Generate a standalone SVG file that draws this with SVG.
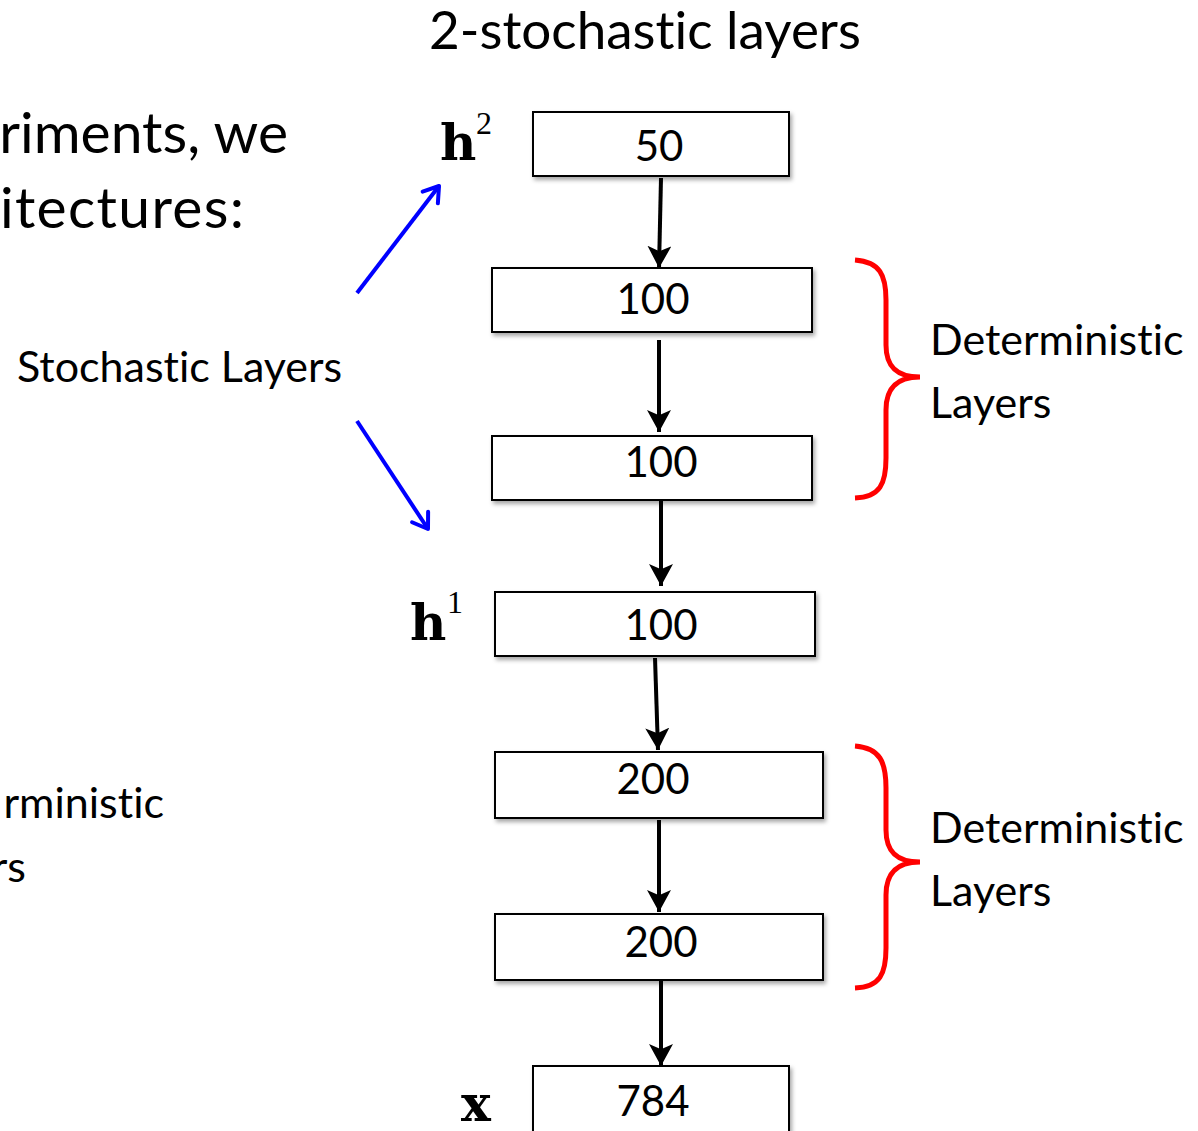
<svg xmlns="http://www.w3.org/2000/svg" width="1198" height="1131" viewBox="0 0 1198 1131">
<style>
text{font-variant-ligatures:none}
.box{fill:#fff;stroke:#000;stroke-width:2;filter:url(#sh)}
.num{font-family:Lato,"Liberation Sans",sans-serif;font-size:42px;fill:#000;text-anchor:middle}
.lbl{font-family:Lato,"Liberation Sans",sans-serif;font-size:43px;fill:#000}
.big{font-family:Lato,"Liberation Sans",sans-serif;font-size:57px;fill:#000}
.title{font-family:Lato,"Liberation Sans",sans-serif;font-size:53px;fill:#000;text-anchor:middle}
.math{font-family:"DejaVu Serif","Liberation Serif",serif;font-weight:bold;fill:#000}
.sup{font-family:"Liberation Serif",serif;fill:#000;font-size:32px}
.con{stroke:#000;stroke-width:4;fill:none;marker-end:url(#ah)}
.blue{stroke:#0000ff;stroke-width:4;fill:none;marker-end:url(#bh)}
.brace{stroke:#ff0000;stroke-width:5;fill:none}
</style>
<defs>
<filter id="sh" x="-5%" y="-10%" width="115%" height="130%">
<feDropShadow dx="2" dy="3" stdDeviation="2" flood-color="#000" flood-opacity="0.35"/>
</filter>
<marker id="ah" markerWidth="7" markerHeight="7" refX="5.5" refY="3" orient="auto" markerUnits="strokeWidth">
<path d="M0,0 L5.5,3 L0,6 L1.3,3 Z" fill="#000"/>
</marker>
<marker id="bh" markerWidth="6" markerHeight="6" refX="4.6" refY="3" orient="auto" markerUnits="strokeWidth">
<path d="M1,0.6 L4.6,3 L1,5.4" fill="none" stroke="#0000ff" stroke-width="1" stroke-linecap="round" stroke-linejoin="round"/>
</marker>
</defs>
<text x="645" y="49" class="title">2-stochastic layers</text>
<text x="288" y="153" class="big" text-anchor="end">riments, we</text>
<text x="244" y="228" class="big" text-anchor="end" textLength="244" lengthAdjust="spacing">itectures:</text>
<text x="164" y="818" class="lbl" text-anchor="end">rministic</text>
<text x="26" y="882" class="lbl" text-anchor="end">rs</text>
<g id="stochastic-label">
<text x="17" y="382" class="lbl">Stochastic Layers</text>
</g>
<g id="h2-label"><text x="440" y="160" class="math" font-size="50">h</text><text x="476" y="134" class="sup">2</text></g>
<g id="h1-label"><text x="410" y="640" class="math" font-size="50">h</text><text x="447" y="613" class="sup">1</text></g>
<g id="x-label"><text x="461" y="1121" class="math" font-size="50">x</text></g>
<g id="n50"><rect class="box" x="533" y="112" width="256" height="64"/><text class="num" x="659" y="161">50</text></g>
<g id="n100a"><rect class="box" x="492" y="268" width="320" height="64"/><text class="num" x="653" y="314">100</text></g>
<g id="n100b"><rect class="box" x="492" y="436" width="320" height="64"/><text class="num" x="661" y="477">100</text></g>
<g id="n100c"><rect class="box" x="495" y="592" width="320" height="64"/><text class="num" x="661" y="640">100</text></g>
<g id="n200a"><rect class="box" x="495" y="752" width="328" height="66"/><text class="num" x="653" y="794">200</text></g>
<g id="n200b"><rect class="box" x="495" y="914" width="328" height="66"/><text class="num" x="661" y="957">200</text></g>
<g id="n784"><rect class="box" x="533" y="1066" width="256" height="70"/><text class="num" x="653" y="1116">784</text></g>
<g id="det1">
<path class="brace" d="M855,260 C880,262 886,275 886,300 L886,345 C886,365 895,377 920,377 C895,377 886,390 886,410 L886,458 C886,484 880,497 855,498"/>
<text x="930" y="355" class="lbl">Deterministic</text>
<text x="930" y="418" class="lbl">Layers</text>
</g>
<g id="det2">
<path class="brace" d="M855,746 C880,748 886,762 886,788 L886,830 C886,850 895,862 920,862 C895,862 886,875 886,895 L886,948 C886,974 880,987 855,988"/>
<text x="930" y="843" class="lbl">Deterministic</text>
<text x="930" y="906" class="lbl">Layers</text>
</g>
<g id="connectors">
<line class="con" x1="661" y1="178" x2="659" y2="268"/>
<line class="con" x1="659" y1="340" x2="659" y2="432"/>
<line class="con" x1="661" y1="500" x2="661" y2="586"/>
<line class="con" x1="655" y1="658" x2="658" y2="750"/>
<line class="con" x1="659" y1="820" x2="659" y2="912"/>
<line class="con" x1="661" y1="980" x2="661" y2="1066"/>
<line class="blue" x1="357" y1="293" x2="439" y2="186"/>
<line class="blue" x1="357" y1="421" x2="428" y2="529"/>
</g>
</svg>
